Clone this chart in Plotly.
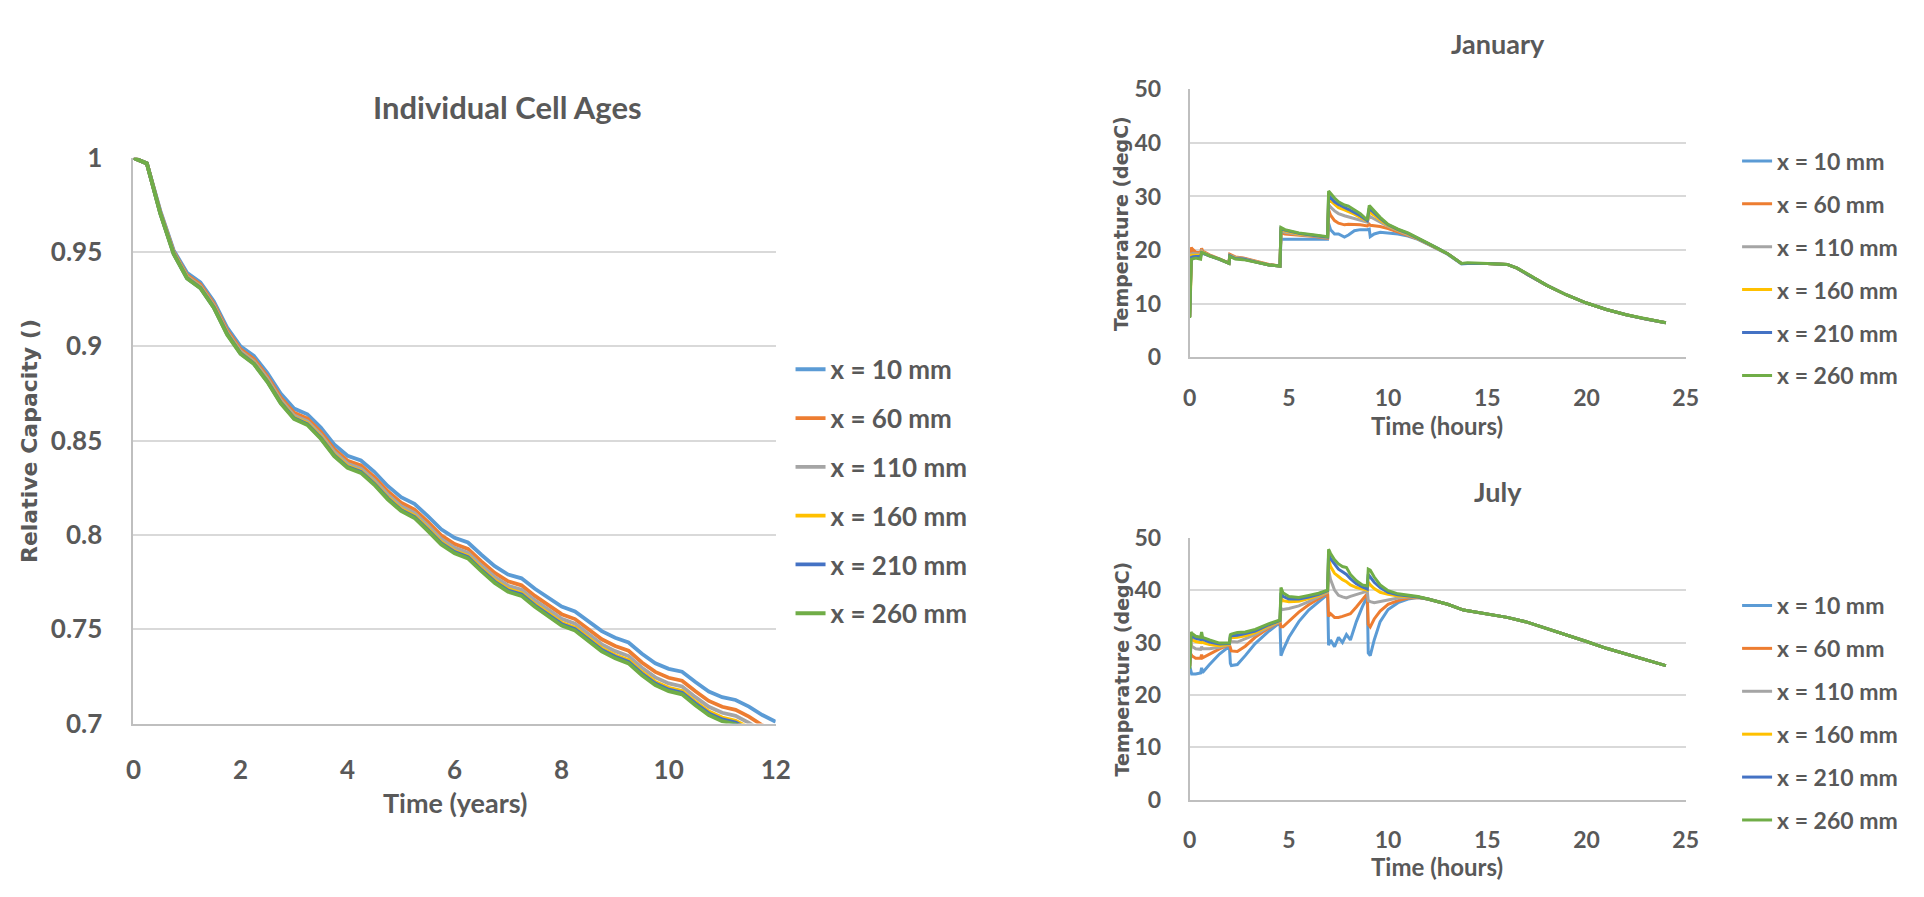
import plotly.graph_objects as go

# ---------------- data ----------------
SERIES_NAMES = ["x = 10 mm", "x = 60 mm", "x = 110 mm", "x = 160 mm", "x = 210 mm", "x = 260 mm"]
COLORS = ["#5B9BD5", "#ED7D31", "#A5A5A5", "#FFC000", "#4472C4", "#70AD47"]

YEARS = [0, 0.25, 0.5, 0.75, 1, 1.25, 1.5, 1.75, 2, 2.25, 2.5, 2.75, 3, 3.25, 3.5, 3.75,
         4, 4.25, 4.5, 4.75, 5, 5.25, 5.5, 5.75, 6, 6.25, 6.5, 6.75, 7, 7.25, 7.5, 7.75,
         8, 8.25, 8.5, 8.75, 9, 9.25, 9.5, 9.75, 10, 10.25, 10.5, 10.75, 11, 11.25, 11.5, 11.75, 12]

CAP_10 = [1.0, 0.997, 0.972, 0.951, 0.939, 0.934, 0.924, 0.910, 0.900, 0.895, 0.886, 0.875, 0.867,
          0.864, 0.857, 0.848, 0.842, 0.8395, 0.8335, 0.826, 0.820, 0.8165, 0.810, 0.803, 0.7985,
          0.796, 0.7895, 0.7835, 0.779, 0.777, 0.7715, 0.7665, 0.762, 0.7595, 0.7545, 0.749,
          0.7455, 0.743, 0.737, 0.732, 0.729, 0.7275, 0.722, 0.717, 0.714, 0.7125, 0.709, 0.7045, 0.701]
CAP_60 = [1.0, 0.997, 0.9714, 0.9502, 0.9378, 0.9327, 0.9226, 0.9085, 0.8984, 0.8932, 0.8841, 0.8729,
          0.8648, 0.8617, 0.8546, 0.8455, 0.8394, 0.8369, 0.8307, 0.8232, 0.8171, 0.8135, 0.8069,
          0.7998, 0.7952, 0.7926, 0.7860, 0.7799, 0.7754, 0.7733, 0.7677, 0.7626, 0.7580, 0.7554,
          0.7503, 0.7447, 0.7411, 0.7386, 0.7324, 0.7274, 0.7243, 0.7227, 0.7171, 0.7120, 0.7089,
          0.7073, 0.7037, 0.6991, 0.6956]
CAP_110 = [1.0, 0.997, 0.9710, 0.9497, 0.9371, 0.9319, 0.9217, 0.9075, 0.8974, 0.8921, 0.8829, 0.8716,
           0.8634, 0.8603, 0.8531, 0.8440, 0.8378, 0.8352, 0.8290, 0.8214, 0.8153, 0.8116, 0.8049,
           0.7978, 0.7932, 0.7905, 0.7838, 0.7777, 0.7731, 0.7710, 0.7653, 0.7601, 0.7555, 0.7529,
           0.7477, 0.7420, 0.7384, 0.7358, 0.7296, 0.7245, 0.7213, 0.7197, 0.7140, 0.7089, 0.7057,
           0.7041, 0.7004, 0.6958, 0.6922]
CAP_160 = [1.0, 0.997, 0.9707, 0.9493, 0.9365, 0.9313, 0.9210, 0.9068, 0.8966, 0.8913, 0.8819, 0.8706,
           0.8623, 0.8592, 0.8519, 0.8427, 0.8366, 0.8339, 0.8276, 0.8200, 0.8138, 0.8101, 0.8034,
           0.7962, 0.7915, 0.7889, 0.7821, 0.7759, 0.7713, 0.7691, 0.7633, 0.7582, 0.7535, 0.7508,
           0.7456, 0.7399, 0.7362, 0.7336, 0.7273, 0.7221, 0.7190, 0.7173, 0.7115, 0.7064, 0.7032,
           0.7015, 0.6978, 0.6931, 0.6894]
CAP_210 = [1.0, 0.997, 0.9706, 0.9491, 0.9362, 0.9310, 0.9207, 0.9065, 0.8963, 0.8909, 0.8815, 0.8702,
           0.8619, 0.8587, 0.8514, 0.8422, 0.8360, 0.8334, 0.8271, 0.8194, 0.8132, 0.8095, 0.8027,
           0.7956, 0.7909, 0.7882, 0.7814, 0.7752, 0.7705, 0.7684, 0.7626, 0.7574, 0.7527, 0.7500,
           0.7447, 0.7390, 0.7354, 0.7327, 0.7264, 0.7212, 0.7180, 0.7163, 0.7106, 0.7054, 0.7022,
           0.7005, 0.6967, 0.6920, 0.6884]
CAP_260 = [1.0, 0.997, 0.9705, 0.949, 0.936, 0.9308, 0.9205, 0.9062, 0.896, 0.8906, 0.8812, 0.8698,
           0.8615, 0.8583, 0.851, 0.8418, 0.8356, 0.8329, 0.8266, 0.8189, 0.8127, 0.809, 0.8022,
           0.795, 0.7903, 0.7876, 0.7808, 0.7746, 0.7699, 0.7677, 0.7619, 0.7567, 0.752, 0.7493,
           0.744, 0.7383, 0.7346, 0.7319, 0.7256, 0.7204, 0.7172, 0.7155, 0.7097, 0.7045, 0.7013,
           0.6996, 0.6958, 0.6911, 0.6874]

JAN_HOURS = [0, 0.08, 0.1, 0.3, 0.55, 0.6, 0.65, 1.0, 1.5, 1.98, 2.02, 2.3, 2.7, 3.5, 4.0, 4.55, 4.6,
             4.8, 5.5, 6.3, 6.95, 7.0, 7.1, 7.3, 7.5, 7.8, 8.0, 8.3, 8.6, 8.95, 9.05, 9.1, 9.3, 9.6,
             10.0, 10.5, 11.0, 11.5, 12.0, 12.5, 13.0, 13.7, 14.0, 15.0, 16.0, 16.5, 17.0, 18.0,
             19.0, 20.0, 21.0, 22.0, 23.0, 24.0]
JAN_10 = [7.5, 19.8, 19.5, 19.2, 19.0, 19.6, 19.4, 18.9, 18.3, 17.6, 18.8, 18.5, 18.4, 17.6, 17.2, 17.0,
          22.0, 22.0, 22.0, 22.0, 22.0, 25.0, 23.8, 23.0, 23.0, 22.4, 22.8, 23.6, 23.8, 23.8, 23.9,
          22.5, 23.0, 23.3, 23.2, 23.0, 22.6, 22.0, 21.1, 20.2, 19.2, 17.4, 17.5, 17.5, 17.3, 16.6,
          15.5, 13.4, 11.6, 10.1, 8.9, 7.9, 7.1, 6.4]
JAN_60 = [7.5, 20.5, 20.3, 19.6, 19.5, 20.3, 19.8, 19.1, 18.4, 17.6, 19.2, 18.7, 18.5, 17.7, 17.3, 17.0,
          23.2, 23.0, 22.8, 22.5, 22.2, 27.5, 26.5, 25.5, 25.0, 24.7, 24.8, 24.8, 24.7, 24.5, 24.8,
          24.6, 24.5, 24.4, 24.0, 23.4, 22.8, 22.1, 21.2, 20.3, 19.3, 17.5, 17.5, 17.5, 17.3, 16.6,
          15.5, 13.4, 11.6, 10.1, 8.9, 7.9, 7.1, 6.4]
JAN_110 = [7.5, 19.5, 19.3, 19.3, 19.2, 19.8, 19.6, 19.0, 18.3, 17.5, 19.0, 18.6, 18.4, 17.6, 17.2, 17.0,
           23.6, 23.3, 22.9, 22.6, 22.3, 28.5, 28.0, 27.3, 26.8, 26.4, 26.2, 25.9, 25.6, 25.2, 26.3,
           26.2, 25.8, 25.2, 24.4, 23.6, 22.9, 22.1, 21.2, 20.3, 19.3, 17.5, 17.5, 17.5, 17.3, 16.6,
           15.5, 13.4, 11.6, 10.1, 8.9, 7.9, 7.1, 6.4]
JAN_160 = [7.5, 19.0, 19.0, 19.0, 19.0, 19.6, 19.5, 18.9, 18.3, 17.5, 18.9, 18.5, 18.3, 17.6, 17.2, 17.0,
           23.9, 23.6, 23.0, 22.7, 22.4, 29.5, 29.2, 28.5, 27.9, 27.5, 27.2, 26.7, 26.1, 25.4, 27.2,
           27.0, 26.5, 25.6, 24.6, 23.7, 23.0, 22.1, 21.2, 20.3, 19.3, 17.5, 17.5, 17.5, 17.3, 16.6,
           15.5, 13.4, 11.6, 10.1, 8.9, 7.9, 7.1, 6.4]
JAN_210 = [7.5, 18.8, 18.7, 18.8, 18.8, 19.5, 19.4, 18.9, 18.3, 17.5, 18.9, 18.4, 18.3, 17.6, 17.2, 17.0,
           24.0, 23.7, 23.1, 22.7, 22.4, 30.2, 29.8, 29.0, 28.5, 28.0, 27.6, 27.0, 26.4, 25.5, 27.8,
           27.6, 26.9, 25.9, 24.7, 23.8, 23.1, 22.2, 21.2, 20.3, 19.3, 17.5, 17.5, 17.5, 17.3, 16.6,
           15.5, 13.4, 11.6, 10.1, 8.9, 7.9, 7.1, 6.4]
JAN_260 = [7.3, 18.5, 18.3, 18.5, 18.3, 19.5, 19.5, 18.9, 18.3, 17.5, 18.8, 18.3, 18.2, 17.6, 17.2, 17.0,
           24.2, 23.8, 23.2, 22.8, 22.5, 31.0, 30.5, 29.7, 29.0, 28.4, 28.2, 27.5, 26.8, 25.6, 28.3,
           28.1, 27.3, 26.1, 24.8, 23.9, 23.2, 22.3, 21.3, 20.3, 19.3, 17.5, 17.6, 17.5, 17.3, 16.6,
           15.6, 13.4, 11.6, 10.1, 8.9, 7.9, 7.1, 6.4]

JUL_HOURS = [0, 0.07, 0.1, 0.3, 0.55, 0.6, 0.65, 1.0, 1.5, 2.0, 2.05, 2.1, 2.4, 2.8, 3.3, 4.0, 4.55,
             4.6, 4.7, 5.0, 5.5, 6.0, 6.5, 6.95, 7.0, 7.1, 7.3, 7.5, 7.7, 7.9, 8.1, 8.4, 8.7, 8.95,
             9.0, 9.1, 9.3, 9.6, 10.0, 10.5, 11.0, 11.5, 12.0, 13.0, 13.8, 15.0, 16.0, 17.0, 18.0,
             19.0, 20.0, 21.0, 22.0, 23.0, 24.0]
JUL_10 = [25.5, 24.5, 24.0, 24.0, 24.2, 25.2, 24.3, 25.8, 27.8, 29.3, 26.0, 25.6, 25.8, 27.5, 29.8, 32.2,
          33.8, 27.5, 28.5, 31.0, 34.0, 36.2, 37.8, 39.2, 29.5, 30.5, 29.2, 31.0, 30.0, 31.5, 30.5,
          34.0, 36.8, 38.8, 28.0, 27.5, 30.5, 34.0, 36.3, 37.6, 38.3, 38.6, 38.3, 37.3, 36.2, 35.5,
          34.8, 33.9, 32.7, 31.4, 30.2, 28.9, 27.8, 26.6, 25.6]
JUL_60 = [25.5, 27.8, 27.5, 27.0, 27.0, 27.7, 27.1, 27.8, 28.8, 29.6, 28.8, 28.4, 28.3, 29.3, 31.0, 32.8,
          34.0, 33.0, 33.0, 34.0, 35.8, 37.2, 38.3, 39.4, 35.0, 35.5, 34.8, 34.8, 35.0, 35.2, 35.5,
          36.8, 38.2, 39.3, 33.5, 33.0, 34.5, 36.0, 37.3, 38.0, 38.5, 38.6, 38.3, 37.3, 36.2, 35.5,
          34.8, 33.9, 32.7, 31.4, 30.2, 28.9, 27.8, 26.6, 25.6]
JUL_110 = [25.5, 29.8, 29.3, 28.8, 28.7, 29.2, 28.8, 28.8, 29.1, 29.6, 30.3, 30.2, 30.1, 30.7, 31.5, 33.0,
           34.0, 36.5, 36.3, 36.5, 37.0, 37.8, 38.7, 39.6, 44.0, 42.0, 40.0, 39.0, 38.7, 38.5, 38.8,
           39.2, 39.6, 39.8, 38.0, 37.8, 37.6, 37.8, 38.2, 38.5, 38.7, 38.7, 38.3, 37.3, 36.2, 35.5,
           34.8, 33.9, 32.7, 31.4, 30.2, 28.9, 27.8, 26.6, 25.6]
JUL_160 = [25.5, 31.0, 30.6, 30.2, 30.0, 30.5, 30.0, 29.6, 29.4, 29.7, 31.0, 30.9, 31.0, 31.3, 31.9, 33.2,
           34.1, 38.5, 38.0, 37.8, 37.9, 38.4, 39.0, 39.8, 46.0, 44.5, 43.2, 42.6, 42.0, 41.6, 41.0,
           40.5, 40.2, 40.0, 41.5, 41.0, 40.3, 39.6, 39.2, 38.9, 38.8, 38.7, 38.3, 37.3, 36.2, 35.5,
           34.8, 33.9, 32.7, 31.4, 30.2, 28.9, 27.8, 26.6, 25.6]
JUL_210 = [25.5, 31.5, 31.2, 30.8, 30.6, 31.2, 30.6, 30.1, 29.7, 29.8, 31.3, 31.3, 31.4, 31.7, 32.2, 33.4,
           34.2, 39.5, 38.8, 38.3, 38.3, 38.7, 39.2, 39.9, 47.0, 46.0, 45.0, 44.0, 43.5, 43.0, 42.2,
           41.2, 40.6, 40.2, 43.0, 42.5, 41.5, 40.5, 39.6, 39.1, 38.9, 38.7, 38.3, 37.3, 36.2, 35.5,
           34.8, 33.9, 32.7, 31.4, 30.2, 28.9, 27.8, 26.6, 25.6]
JUL_260 = [25.0, 32.0, 31.8, 31.2, 31.0, 32.0, 31.0, 30.5, 29.9, 29.9, 31.5, 31.6, 31.9, 32.0, 32.5, 33.6,
           34.3, 40.5, 39.5, 38.8, 38.6, 39.0, 39.4, 40.0, 47.8, 47.0, 45.8, 45.0, 44.5, 44.3, 43.0,
           41.8, 41.0, 40.8, 44.0, 43.8, 42.5, 41.0, 39.9, 39.3, 39.0, 38.8, 38.3, 37.3, 36.2, 35.5,
           34.8, 33.9, 32.7, 31.4, 30.2, 28.9, 27.8, 26.6, 25.6]

CAP_TICKS = [0.7, 0.75, 0.8, 0.85, 0.9, 0.95, 1.0]
CAP_TICK_TEXT = ["0.7", "0.75", "0.8", "0.85", "0.9", "0.95", "1"]
YEAR_TICKS = [0, 2, 4, 6, 8, 10, 12]
HOUR_TICKS = [0, 5, 10, 15, 20, 25]
TEMP_TICKS = [0, 10, 20, 30, 40, 50]

# ---------------- figure ----------------
W, H = 1924, 897
FONT = "Lato, 'Open Sans', 'DejaVu Sans', sans-serif"
WIDE = "'DejaVu Sans', Verdana, sans-serif"
TXT = "#595959"
GRID = "#D9D9D9"
AXL = "#BFBFBF"

def px(x):
    return x / W

def py(y):
    return 1 - y / H

fig = go.Figure()

cap_series = [CAP_10, CAP_60, CAP_110, CAP_160, CAP_210, CAP_260]
jan_series = [JAN_10, JAN_60, JAN_110, JAN_160, JAN_210, JAN_260]
jul_series = [JUL_10, JUL_60, JUL_110, JUL_160, JUL_210, JUL_260]

for i, (name, col) in enumerate(zip(SERIES_NAMES, COLORS)):
    fig.add_trace(go.Scatter(x=YEARS, y=cap_series[i], mode="lines", name=name,
                             line=dict(color=col, width=3.8), xaxis="x", yaxis="y",
                             legend="legend", legendgroup="a%d" % i, hoverinfo="skip"))
for i, (name, col) in enumerate(zip(SERIES_NAMES, COLORS)):
    fig.add_trace(go.Scatter(x=JAN_HOURS, y=jan_series[i], mode="lines", name=name,
                             line=dict(color=col, width=3), xaxis="x2", yaxis="y2",
                             legend="legend2", legendgroup="b%d" % i, hoverinfo="skip"))
for i, (name, col) in enumerate(zip(SERIES_NAMES, COLORS)):
    fig.add_trace(go.Scatter(x=JUL_HOURS, y=jul_series[i], mode="lines", name=name,
                             line=dict(color=col, width=3), xaxis="x3", yaxis="y3",
                             legend="legend3", legendgroup="c%d" % i, hoverinfo="skip"))

def xaxis(domain, rng, ticks, anchor, size, standoff):
    return dict(domain=domain, range=rng, tickvals=ticks, anchor=anchor,
                showgrid=False, zeroline=False, showline=True, linecolor=AXL, linewidth=2,
                ticks="", ticklabelstandoff=standoff,
                tickfont=dict(family=FONT, size=size, color=TXT, weight="bold"))

def yaxis(domain, rng, ticks, anchor, size, standoff, ticktext=None):
    d = dict(domain=domain, range=rng, tickvals=ticks, anchor=anchor,
             showgrid=True, gridcolor=GRID, gridwidth=2, zeroline=False,
             showline=True, linecolor=AXL, linewidth=2, ticks="", ticklabelstandoff=standoff,
             tickfont=dict(family=FONT, size=size, color=TXT, weight="bold"))
    if ticktext is not None:
        d["ticktext"] = ticktext
    return d

L_X = [px(127), px(777)]
L_Y = [py(732.7), py(146)]
R_X = [px(1196), px(1698)]
J_Y = [py(352.7), py(75)]
U_Y = [py(811.7), py(540)]

def legend(x, ytop, size, gap):
    return dict(x=x, y=ytop, xanchor="left", yanchor="top", xref="paper", yref="paper",
                bgcolor="rgba(0,0,0,0)", traceorder="grouped", tracegroupgap=gap,
                font=dict(family=FONT, size=size, color=TXT, weight="bold"))

fig.update_layout(
    width=W, height=H, margin=dict(l=0, r=0, t=0, b=0),
    paper_bgcolor="white", plot_bgcolor="white", showlegend=True,
    xaxis=xaxis(L_X, [0, 12], YEAR_TICKS, "y", 26, 22),
    yaxis=yaxis(L_Y, [0.7, 1.0], CAP_TICKS, "x", 26, 24, CAP_TICK_TEXT),
    xaxis2=xaxis(R_X, [0, 25], HOUR_TICKS, "y2", 23, 19),
    yaxis2=yaxis(J_Y, [0, 50], TEMP_TICKS, "x2", 23, 22),
    xaxis3=xaxis(R_X, [0, 25], HOUR_TICKS, "y3", 23, 19),
    yaxis3=yaxis(U_Y, [0, 50], TEMP_TICKS, "x3", 23, 22),
    legend=legend(px(792), py(341), 26, 12),
    legend2=legend(px(1750), py(127), 23, 10),
    legend3=legend(px(1750), py(588), 23, 10),
)

def ann(text, x, y, size, family=FONT, angle=0):
    fig.add_annotation(text=text, x=px(x), y=py(y), xref="paper", yref="paper",
                       xanchor="center", yanchor="middle", showarrow=False, textangle=angle,
                       font=dict(family=family, size=size, color=TXT, weight="bold"))

ann("Individual Cell Ages", 506, 93, 31)
ann("January", 1508, 27, 27)
ann("July", 1508, 492, 27)
ann("Time (years)", 452, 815, 27)
ann("Time (hours)", 1446, 424, 24)
ann("Time (hours)", 1446, 881, 24)
ann("Relative Capacity ()", 22, 440, 22, WIDE, -90)
ann("Temperature (degC)", 1127, 214, 19, WIDE, -90)
ann("Temperature (degC)", 1127, 676, 19, WIDE, -90)

fig.write_html("out.html", config={"displayModeBar": False},
               post_script="document.body.style.margin='0';document.body.style.padding='0';"
                           "document.documentElement.style.overflow='hidden';")
